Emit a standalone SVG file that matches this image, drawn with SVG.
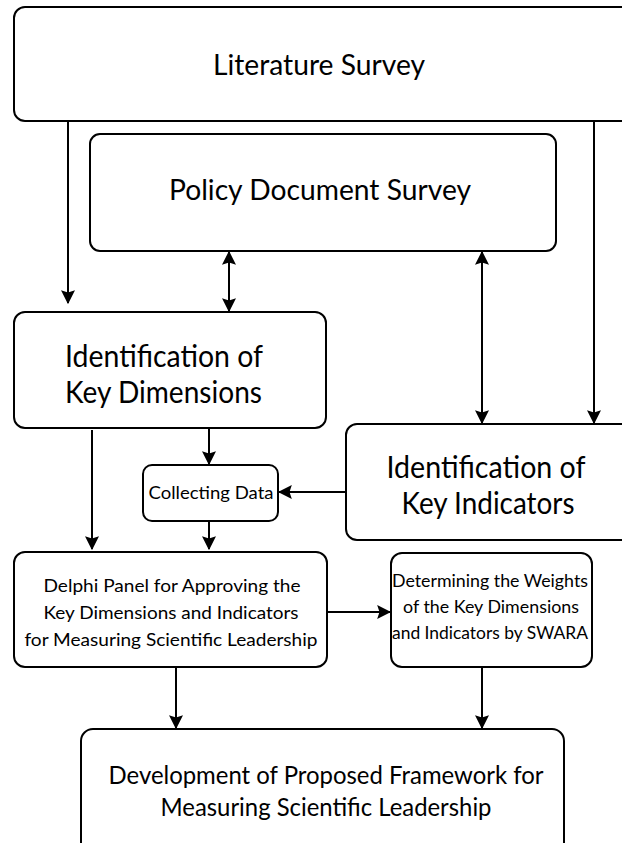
<svg xmlns="http://www.w3.org/2000/svg" width="622" height="843" viewBox="0 0 622 843">
  <style>
    .box { fill: #ffffff; stroke: #000000; stroke-width: 2; }
    .edge { fill: none; stroke: #000000; stroke-width: 2; }
    text { font-family: Lato, "Liberation Sans", sans-serif; fill: #000000; }
    .mid { text-anchor: middle; }
  </style>
  <defs>
    <!-- filled triangular arrowhead, reused at both ends of two-way links -->
    <marker id="arrow" viewBox="0 0 12 12" refX="11" refY="6" markerWidth="7" markerHeight="7" markerUnits="strokeWidth" orient="auto-start-reverse">
      <path d="M0,0 L12,6 L0,12 L2,6 z" fill="#000000"/>
    </marker>
  </defs>
  <rect width="622" height="843" fill="#ffffff"/>

  <g id="literature-survey">
    <rect class="box" x="14" y="7" width="630" height="114" rx="11"/>
    <text class="mid" x="319" y="75" font-size="28" textLength="212" lengthAdjust="spacingAndGlyphs">Literature Survey</text>
  </g>

  <g id="policy-document-survey">
    <rect class="box" x="90" y="134" width="466" height="117" rx="10"/>
    <text class="mid" x="320" y="200" font-size="28" textLength="302" lengthAdjust="spacingAndGlyphs">Policy Document Survey</text>
  </g>

  <g id="key-dimensions">
    <rect class="box" x="14" y="312" width="312" height="116" rx="11"/>
    <text x="65" y="367" font-size="30" textLength="198" lengthAdjust="spacingAndGlyphs">Identification of</text>
    <text x="65" y="403" font-size="30" textLength="197" lengthAdjust="spacingAndGlyphs">Key Dimensions</text>
  </g>

  <g id="key-indicators">
    <rect class="box" x="346" y="424" width="300" height="116" rx="11"/>
    <text class="mid" x="486" y="478" font-size="30" textLength="199" lengthAdjust="spacingAndGlyphs">Identification of</text>
    <text class="mid" x="488" y="514" font-size="30" textLength="173" lengthAdjust="spacingAndGlyphs">Key Indicators</text>
  </g>

  <g id="collecting-data">
    <rect class="box" x="143" y="465" width="135" height="56" rx="9"/>
    <text class="mid" x="211" y="499" font-size="17" textLength="125" lengthAdjust="spacingAndGlyphs">Collecting Data</text>
  </g>

  <g id="delphi-panel">
    <rect class="box" x="14" y="552" width="313" height="115" rx="11"/>
    <text class="mid" x="172" y="592" font-size="18" textLength="257" lengthAdjust="spacingAndGlyphs">Delphi Panel for Approving the</text>
    <text class="mid" x="171" y="619" font-size="18" textLength="255" lengthAdjust="spacingAndGlyphs">Key Dimensions and Indicators</text>
    <text class="mid" x="171" y="646" font-size="18" textLength="293" lengthAdjust="spacingAndGlyphs">for Measuring Scientific Leadership</text>
  </g>

  <g id="swara-weights">
    <rect class="box" x="391" y="553" width="201" height="114" rx="11"/>
    <text class="mid" x="490" y="587" font-size="17.5" textLength="196" lengthAdjust="spacingAndGlyphs">Determining the Weights</text>
    <text class="mid" x="491" y="613" font-size="17.5" textLength="176" lengthAdjust="spacingAndGlyphs">of the Key Dimensions</text>
    <text class="mid" x="490" y="639" font-size="17.5" textLength="196" lengthAdjust="spacingAndGlyphs">and Indicators by SWARA</text>
  </g>

  <g id="proposed-framework">
    <rect class="box" x="81" y="729" width="483" height="130" rx="12"/>
    <text class="mid" x="326" y="784" font-size="25" textLength="435" lengthAdjust="spacingAndGlyphs">Development of Proposed Framework for</text>
    <text class="mid" x="326" y="816" font-size="25" textLength="331" lengthAdjust="spacingAndGlyphs">Measuring Scientific Leadership</text>
  </g>

  <g id="connectors">
    <line class="edge" x1="68" y1="121" x2="68" y2="303" marker-end="url(#arrow)"/>
    <line class="edge" x1="594" y1="121" x2="594" y2="423" marker-end="url(#arrow)"/>
    <line class="edge" x1="229" y1="252" x2="229" y2="311" marker-start="url(#arrow)" marker-end="url(#arrow)"/>
    <line class="edge" x1="482" y1="252" x2="482" y2="423" marker-start="url(#arrow)" marker-end="url(#arrow)"/>
    <line class="edge" x1="209" y1="428" x2="209" y2="464" marker-end="url(#arrow)"/>
    <line class="edge" x1="92" y1="430" x2="92" y2="549" marker-end="url(#arrow)"/>
    <line class="edge" x1="345" y1="492" x2="279" y2="492" marker-end="url(#arrow)"/>
    <line class="edge" x1="209" y1="521" x2="209" y2="549" marker-end="url(#arrow)"/>
    <line class="edge" x1="327" y1="612" x2="390" y2="612" marker-end="url(#arrow)"/>
    <line class="edge" x1="176" y1="667" x2="176" y2="728" marker-end="url(#arrow)"/>
    <line class="edge" x1="482" y1="667" x2="482" y2="728" marker-end="url(#arrow)"/>
  </g>
</svg>
